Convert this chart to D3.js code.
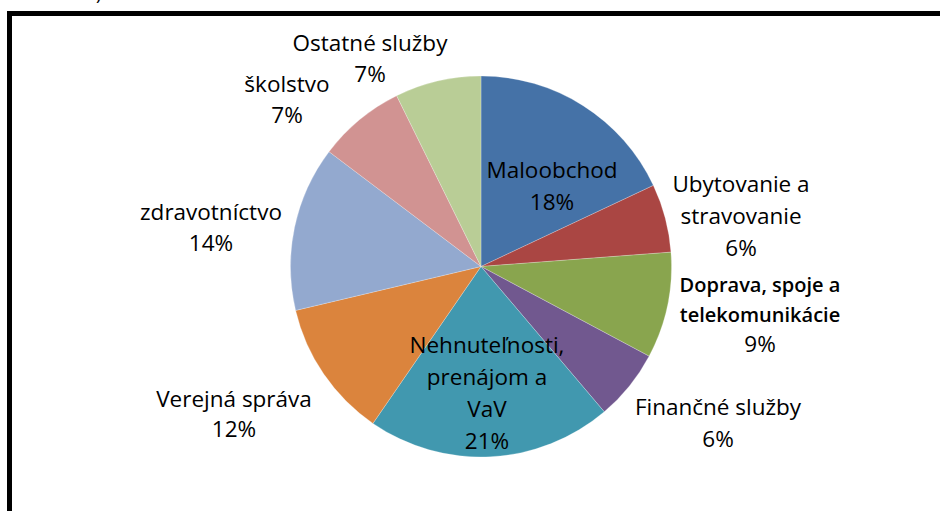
<!DOCTYPE html>
<html><head><meta charset="utf-8">
<script src="https://cdn.jsdelivr.net/npm/d3@7"></script>
<style>body{margin:0;background:#fff}svg{display:block}</style>
</head><body>
<script>
const categories = ["Maloobchod","Ubytovanie a stravovanie","Doprava, spoje a telekomunikácie","Finančné služby","Nehnuteľnosti, prenájom a VaV","Verejná správa","zdravotníctvo","školstvo","Ostatné služby"];
const values = [18.0, 5.8, 9.0, 6.0, 20.8, 11.7, 14.0, 7.4, 7.3];
const percentLabels = ["18%","6%","9%","6%","21%","12%","14%","7%","7%"];
const labelLines = [["Maloobchod"],["Ubytovanie a","stravovanie"],["Doprava, spoje a","telekomunikácie"],["Finančné služby"],["Nehnuteľnosti,","prenájom a","VaV"],["Verejná správa"],["zdravotníctvo"],["školstvo"],["Ostatné služby"]];
const colors = ["#4572A7","#AA4643","#89A54E","#71588F","#4198AF","#DB843D","#93A9CF","#D19392","#B9CD96"];

const W = 940, H = 511;
const svg = d3.select("body").append("svg").attr("width", W).attr("height", H);
svg.append("rect").attr("width", W).attr("height", H).attr("fill", "#fff");

// frame (cut off at right and bottom)
svg.append("rect").attr("x", 7).attr("y", 11).attr("width", 5).attr("height", H - 11).attr("fill", "#000");
svg.append("rect").attr("x", 7).attr("y", 11).attr("width", W - 7).attr("height", 5).attr("fill", "#000");
svg.append("text").attr("x", 96).attr("y", 0).attr("font-family", "Open Sans").attr("font-size", 18).text(")");

const cx = 481, cy = 266.5, r = 190.5;
const pie = d3.pie().sort(null).value(d => d)(values);
const arc = d3.arc().innerRadius(0).outerRadius(r);
const g = svg.append("g").attr("transform", `translate(${cx},${cy})`);
g.selectAll("path").data(pie).join("path")
  .attr("d", arc).attr("fill", (d, i) => colors[i])
  .attr("stroke", "#fff").attr("stroke-width", 0.4).attr("stroke-opacity", 0.6);

// label anchor positions (center x, first baseline) and line spacing
const labelPos = [
  {x: 552, y: 178, dy: 32},
  {x: 741, y: 192, dy: 32},
  {x: 760, y: 292, dy: 30, bold: true},
  {x: 718, y: 415, dy: 32},
  {x: 487, y: 353, dy: 32},
  {x: 234, y: 407, dy: 30},
  {x: 211, y: 220, dy: 31},
  {x: 287, y: 92, dy: 31},
  {x: 370, y: 51, dy: 31}
];
labelLines.forEach((lines, i) => {
  const p = labelPos[i];
  const t = svg.append("text").attr("text-anchor", "middle")
    .attr("font-family", "Open Sans").attr("font-size", 22.5)
    .attr("font-weight", 400).attr("fill", "#000");
  const all = lines.concat([percentLabels[i]]);
  all.forEach((s, k) => {
    const ts = t.append("tspan").attr("x", p.x).attr("y", p.y + k * p.dy).text(s);
    if (p.bold && k < lines.length) ts.attr("font-size", 20).attr("font-weight", 600);
  });
});
</script>
</body></html>
